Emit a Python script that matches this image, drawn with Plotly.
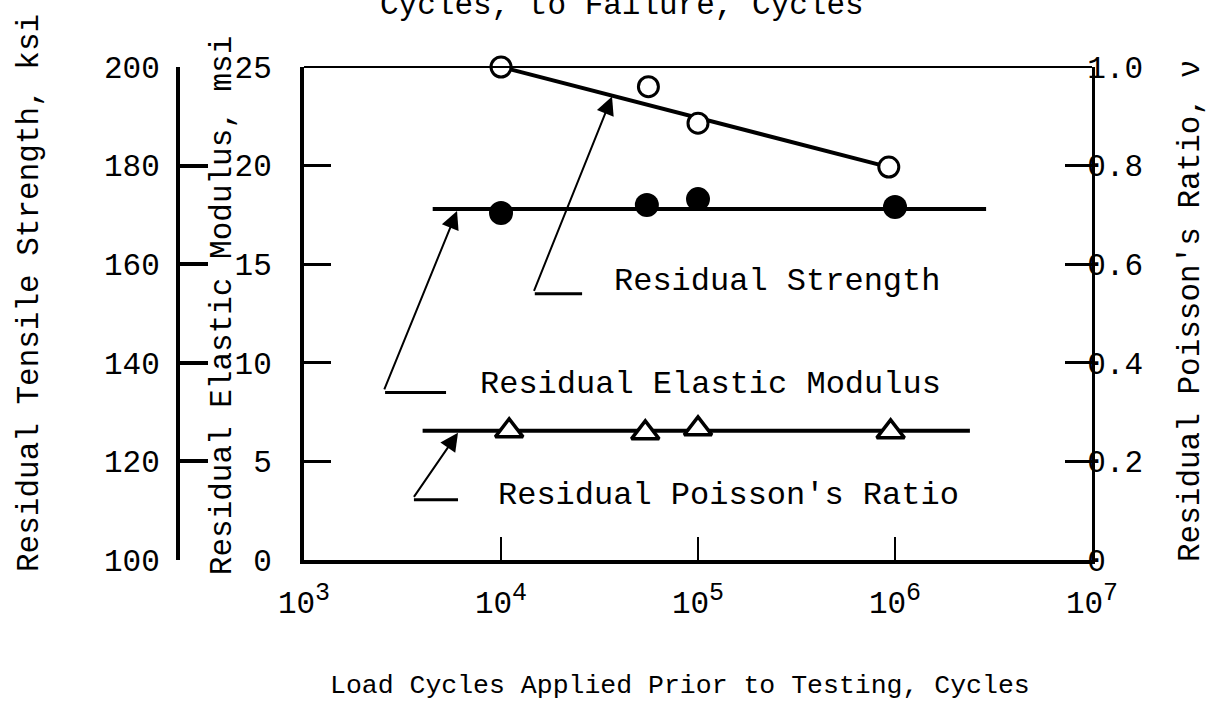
import math
import plotly.graph_objects as go

# residual strength, ksi (open circles) and its fitted line
strength_cycles = [1.0e4, 5.6e4, 1.0e5, 9.3e5]
strength_ksi = [200, 196, 188.6, 179.7]
strength_fit_cycles = [1.0e4, 9.3e5]
strength_fit_ksi = [200, 179.7]

# residual elastic modulus, msi (filled circles)
modulus_cycles = [1.0e4, 5.5e4, 1.0e5, 1.0e6]
modulus_msi = [17.6, 18.0, 18.3, 17.9]
modulus_fit_cycles = [4.5e3, 2.9e6]
modulus_fit_msi = [17.8, 17.8]

# residual poisson's ratio (open triangles)
poisson_cycles = [1.1e4, 5.4e4, 1.0e5, 9.5e5]
poisson_ratio = [0.262, 0.258, 0.266, 0.26]
poisson_fit_cycles = [4.0e3, 2.4e6]
poisson_fit_ratio = [0.262, 0.262]

x_tickvals = [1e3, 1e4, 1e5, 1e6, 1e7]
x_exponents = ["3", "4", "5", "6", "7"]
strength_ticks = [100, 120, 140, 160, 180, 200]
modulus_ticks = [0, 5, 10, 15, 20, 25]
poisson_ticks = [0, 0.2, 0.4, 0.6, 0.8, 1.0]
poisson_ticktext = ["0", "0.2", "0.4", "0.6", "0.8", "1.0"]

MONO = "Liberation Mono"
BLK = "black"

x_ticktext = ["10<sup><span style='font-size:25px'>%s</span></sup>" % e for e in x_exponents]

fig = go.Figure()

# fitted lines first so markers sit on top
fig.add_trace(go.Scatter(x=strength_fit_cycles, y=strength_fit_ksi, mode="lines",
                         line=dict(color=BLK, width=4), yaxis="y2", cliponaxis=False))
fig.add_trace(go.Scatter(x=modulus_fit_cycles, y=modulus_fit_msi, mode="lines",
                         line=dict(color=BLK, width=4), yaxis="y"))
fig.add_trace(go.Scatter(x=poisson_fit_cycles, y=poisson_fit_ratio, mode="lines",
                         line=dict(color=BLK, width=4), yaxis="y3"))

fig.add_trace(go.Scatter(x=strength_cycles, y=strength_ksi, mode="markers", yaxis="y2",
                         cliponaxis=False,
                         marker=dict(symbol="circle", size=20, color="white",
                                     line=dict(color=BLK, width=3))))
fig.add_trace(go.Scatter(x=modulus_cycles, y=modulus_msi, mode="markers", yaxis="y",
                         marker=dict(symbol="circle", size=24, color=BLK)))
fig.add_trace(go.Scatter(x=poisson_cycles, y=poisson_ratio, mode="markers", yaxis="y3",
                         marker=dict(symbol="triangle-up", size=24, color="white",
                                     line=dict(color=BLK, width=3.5))))

ann = []


def leader(tip_x, tip_y, tail_x, tail_y, knee_x, label, label_x, label_y):
    # diagonal arrow from the knee up to the curve, plus the short horizontal tick
    ann.append(dict(x=math.log10(tip_x), y=tip_y, ax=math.log10(tail_x), ay=tail_y,
                    xref="x", yref="y", axref="x", ayref="y", text=" ", showarrow=True,
                    arrowhead=2, arrowsize=1.8, arrowwidth=2, arrowcolor=BLK,
                    standoff=0, startstandoff=0, font=dict(size=2)))
    ann.append(dict(x=math.log10(knee_x), y=tail_y, ax=math.log10(tail_x), ay=tail_y,
                    xref="x", yref="y", axref="x", ayref="y", text=" ", showarrow=True,
                    arrowhead=0, arrowwidth=3, arrowcolor=BLK, standoff=0, startstandoff=0,
                    font=dict(size=2)))
    ann.append(dict(x=math.log10(label_x), y=label_y, xref="x", yref="y", text=label,
                    showarrow=False, xanchor="left", yanchor="middle",
                    font=dict(family=MONO, size=32, color=BLK)))


leader(3.66e4, 23.5, 1.45e4, 13.5, 2.58e4, "Residual Strength", 3.66e4, 14.1)
leader(5.98e3, 17.7, 2.52e3, 8.5, 5.26e3, "Residual Elastic Modulus", 7.64e3, 8.9)
leader(6.05e3, 6.45, 3.53e3, 3.05, 6.05e3, "Residual Poisson's Ratio", 9.44e3, 3.25)

# axis titles (typed text placed around the frame)
ann.append(dict(x=-0.1274, y=0.5416, xref="paper", yref="paper", text="Residual Tensile Strength, ksi",
                textangle=-90, showarrow=False, xanchor="center", yanchor="middle",
                font=dict(family=MONO, size=31, color=BLK)))
ann.append(dict(x=0.0765, y=0.517, xref="paper", yref="paper", text="Residual Elastic Modulus, msi",
                textangle=-90, showarrow=False, xanchor="center", yanchor="middle",
                font=dict(family=MONO, size=31, color=BLK)))
ann.append(dict(x=1.104, y=0.505, xref="paper", yref="paper", text="Residual Poisson's Ratio, ν",
                textangle=-90, showarrow=False, xanchor="center", yanchor="middle",
                font=dict(family=MONO, size=31, color=BLK)))
ann.append(dict(x=0.563, y=-0.256, xref="paper", yref="paper",
                text="Load Cycles Applied Prior to Testing, Cycles",
                showarrow=False, xanchor="center", yanchor="middle",
                font=dict(family=MONO, size=26.5, color=BLK)))
ann.append(dict(x=0.501, y=1.085, xref="paper", yref="paper", text="Cycles, to Failure, Cycles",
                showarrow=False, xanchor="center", yanchor="bottom",
                font=dict(family=MONO, size=31, color=BLK)))

fig.update_layout(
    width=1215, height=704,
    margin=dict(l=150, r=123, t=67, b=144),
    paper_bgcolor="white", plot_bgcolor="white",
    showlegend=False,
    font=dict(family=MONO, size=31, color=BLK),
    annotations=ann,
    shapes=[dict(type="line", xref="paper", yref="paper", x0=0.1635, x1=1, y0=1, y1=1,
                 line=dict(color=BLK, width=2))],
    xaxis=dict(type="log", range=[3, 7], domain=[0.1635, 1],
               tickvals=x_tickvals, ticktext=x_ticktext,
               ticks="inside", ticklen=23, tickwidth=2, tickcolor=BLK,
               showline=True, linewidth=4, linecolor=BLK,
               showgrid=False, zeroline=False, ticklabelstandoff=12,
               tickfont=dict(family=MONO, size=31, color=BLK)),
    yaxis=dict(range=[0, 25], tickvals=modulus_ticks,
               ticks="inside", ticklen=27, tickwidth=3, tickcolor=BLK,
               showline=True, linewidth=4, linecolor=BLK,
               showgrid=False, zeroline=False, ticklabelstandoff=22,
               tickfont=dict(family=MONO, size=31, color=BLK)),
    yaxis2=dict(range=[100, 200], tickvals=strength_ticks, overlaying="y",
                anchor="free", position=0.0297, side="left",
                ticks="inside", ticklen=28, tickwidth=4, tickcolor=BLK,
                showline=True, linewidth=4, linecolor=BLK,
                showgrid=False, zeroline=False, ticklabelstandoff=10,
                tickfont=dict(family=MONO, size=31, color=BLK)),
    yaxis3=dict(range=[0, 1], tickvals=poisson_ticks, ticktext=poisson_ticktext,
                overlaying="y", anchor="x", side="right",
                ticks="inside", ticklen=27, tickwidth=3, tickcolor=BLK,
                showline=True, linewidth=3, linecolor=BLK,
                showgrid=False, zeroline=False, ticklabelstandoff=-14,
                tickfont=dict(family=MONO, size=31, color=BLK)),
)

# the page keeps a default 8px body margin; drop it so the figure sits at the window corner
fig.write_html("out.html", config={"displayModeBar": False},
               post_script="document.body.style.margin='0px';")
